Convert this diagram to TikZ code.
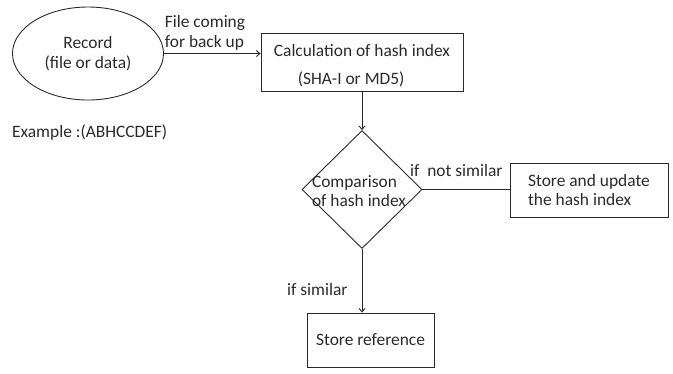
\documentclass[tikz,border=0pt]{standalone}
\usepackage{fontspec}
\setmainfont{Carlito}
\usetikzlibrary{shapes.geometric,arrows.meta}
\definecolor{ink}{HTML}{2A2A2A}
\newcommand{\fs}[1]{\fontsize{17.4}{#1}\selectfont}
\tikzset{
  box/.style={draw=ink, line width=0.9pt, rectangle, inner sep=0pt, text=ink},
  lbl/.style={text=ink, inner sep=0pt},
  conn/.style={draw=ink, line width=0.9pt},
  arr/.style={conn, -{Straight Barb[length=3.5pt,width=6pt]}}
}
\begin{document}
\begin{tikzpicture}[x=1pt,y=-1pt, font=\fs{20}]
\useasboundingbox (0,0) rectangle (673,373);
\node[draw=ink, line width=0.9pt, ellipse, minimum width=151pt, minimum height=93pt, inner sep=0pt, text=ink, align=center, font=\fs{20}] (rec) at (88,53.5) {Record\\(file or data)};
\node[box, minimum width=202pt, minimum height=58pt] (calc) at (362,62) {};
\node[lbl, align=left, font=\fs{28}] (calct) at (362,66) {Calculation of hash index\\\hspace*{24pt}(SHA-I or MD5)};
\node[lbl, align=left, font=\fs{20}] (fc) at (205,33) {File coming\\for back up};
\node[lbl, anchor=west] (ex) at (12,133) {Example :(ABHCCDEF)};
\node[draw=ink, line width=0.9pt, diamond, minimum width=120pt, minimum height=118pt, inner sep=0pt] (cmp) at (362,189.5) {};
\node[lbl, align=left, font=\fs{18.5}] (cmpt) at (359,191) {Comparison\\ of hash index};
\node[box, minimum width=158pt, minimum height=54pt, align=left, font=\fs{18.5}] (upd) at (589,190) {Store and update\\the hash index};
\node[box, minimum width=127pt, minimum height=54pt] (ref) at (370.5,340) {Store reference};
\node[lbl, anchor=south west] (ns) at (410,177) {if\ \ not similar};
\node[lbl, anchor=west] (sim) at (287,290) {if similar};
\draw[arr] (rec.east) -- (rec.east -| calc.west);
\draw[arr] (calc.south) -- (cmp.north);
\draw[conn] (cmp.east) -- (upd.west |- cmp.east);
\draw[arr] (cmp.south) -- (cmp.south |- ref.north);
\end{tikzpicture}
\end{document}
